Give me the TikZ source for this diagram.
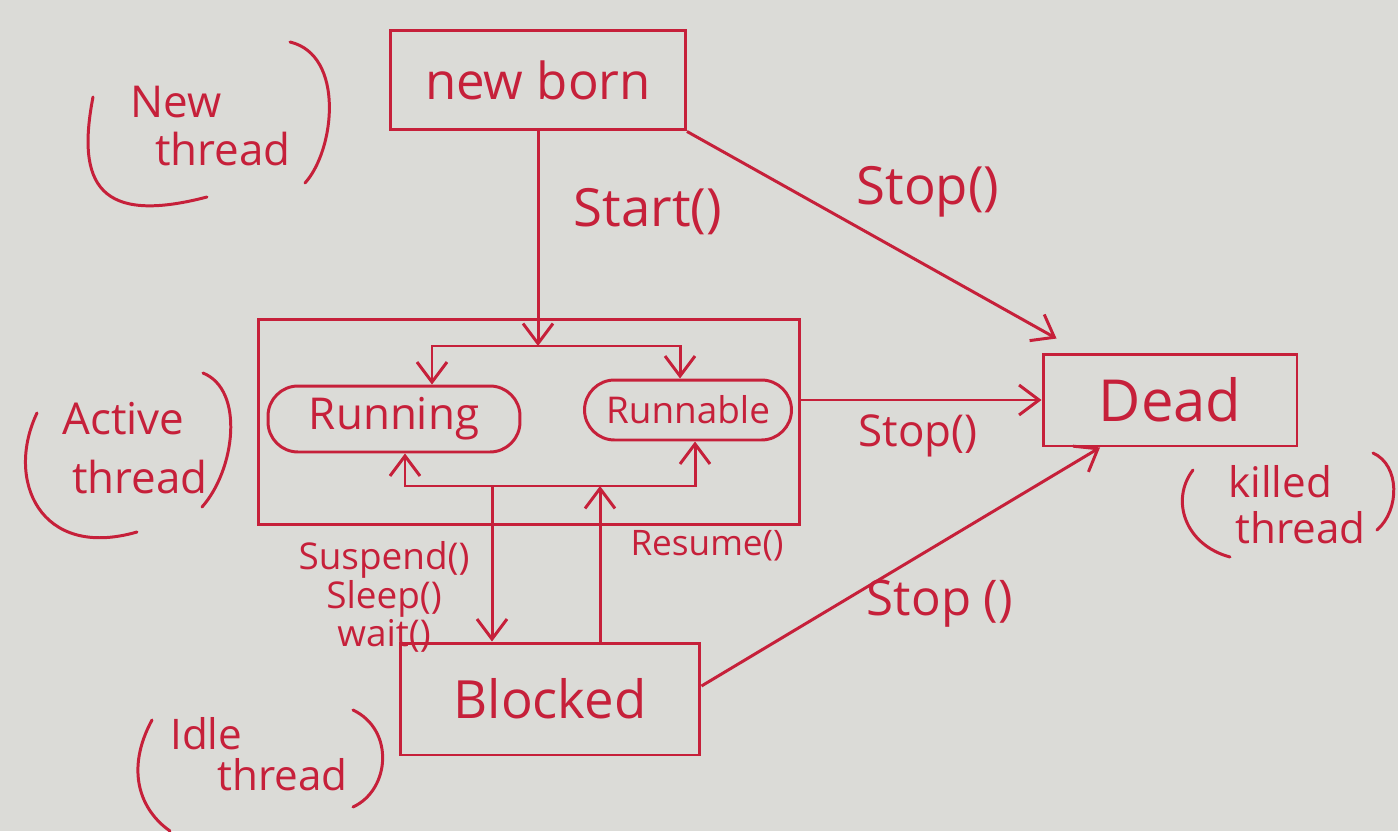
\documentclass[tikz,border=0pt]{standalone}
\usepackage{fontspec}
\setmainfont{Open Sans}
\usetikzlibrary{arrows.meta,calc,positioning}
\definecolor{ink}{RGB}{198,32,58}
\definecolor{paper}{RGB}{219,219,215}
\newcommand{\handfont}[2]{\fontsize{#1}{#2}\selectfont}

\begin{document}
\begin{tikzpicture}[x=0.02cm,y=-0.02cm,
    >={Straight Barb[length=0.4cm,width=0.6cm]},
    ink_line/.style={draw=ink, line width=1.7pt},
    state_box/.style={rectangle, ink_line, text=ink, inner sep=0pt},
    state_oval/.style={rectangle, rounded corners=0.6cm, ink_line, text=ink, inner sep=0pt},
    one_way/.style={->, ink_line},
    two_way/.style={<->, ink_line},
    hand_label/.style={text=ink, inner sep=0pt},
    paren/.style={ink_line, line cap=round}]

  \fill[paper] (0,0) rectangle (1398,831);
  \useasboundingbox (0,0) rectangle (1398,831);

  % states
  \path (538,80) node(newborn) [state_box, minimum width=5.9cm, minimum height=2cm, font=\handfont{29}{29}] {new born}
  (529,422) node(active) [state_box, minimum width=10.84cm, minimum height=4.1cm] {}
  (394,419) node(running) [state_oval, minimum width=5.04cm, minimum height=1.32cm, font=\handfont{25}{25}] {Running}
  (688,410) node(runnable) [state_oval, minimum width=4.14cm, minimum height=1.2cm, font=\handfont{21}{21}] {Runnable}
  (550,699) node(blocked) [state_box, minimum width=6cm, minimum height=2.24cm, font=\handfont{30}{30}] {Blocked}
  (1170,400) node(dead) [state_box, minimum width=5.08cm, minimum height=1.84cm, font=\handfont{33}{33}] {Dead};

  \coordinate (loop_top) at (540,346);
  \coordinate (loop_bot) at (550,486);
  \coordinate (susp_start) at (492,486);
  \coordinate (res_end) at (600,486);

  % inside the active box
  \draw[two_way] ([xshift=0.76cm]running.north) |- (loop_top) -| ([xshift=-0.16cm]runnable.north);
  \draw[two_way] ([xshift=0.22cm]running.south) |- (loop_bot) -| ([xshift=0.14cm]runnable.south);

  \path (newborn.south) edge[one_way] (newborn.south |- loop_top)
  (susp_start) edge[one_way] (susp_start |- blocked.north)
  (res_end |- blocked.north) edge[one_way] (res_end)
  (newborn.south east) edge[one_way] ([shift={(0.3cm,0.28cm)}]dead.north west)
  (active.east |- dead.west) edge[one_way] (dead.west)
  ([yshift=0.26cm]blocked.east) edge[one_way] ([xshift=-1.4cm]dead.south)
  ;

  % method labels
  \path (648,212) node(start_lbl) [hand_label, font=\handfont{30}{30}] {Start()}
  (928,192) node(stop_new_lbl) [hand_label, font=\handfont{30}{30}] {Stop()}
  (918,436) node(stop_act_lbl) [hand_label, font=\handfont{25}{25}] {Stop()}
  (940,604) node(stop_blk_lbl) [hand_label, font=\handfont{28}{28}] {Stop ()}
  (707,546) node(resume_lbl) [hand_label, font=\handfont{20}{20}] {Resume()}
  (384,597) node(wait_lbl) [hand_label, align=center, font=\handfont{21}{18}] {Suspend()\\Sleep()\\wait()};

  % thread kinds
  \path (130,126) node(new_lbl) [hand_label, anchor=west, align=left, font=\handfont{25}{27}] {New\\\hspace{0.5cm}thread}
  (62,448) node(active_lbl) [hand_label, anchor=west, align=left, font=\handfont{25}{34}] {Active\\\hspace{0.2cm}thread}
  (170,754) node(idle_lbl) [hand_label, anchor=west, align=left, font=\handfont{24}{23}] {Idle\\\hspace{0.94cm}thread}
  (1228,505) node(killed_lbl) [hand_label, anchor=west, align=left, font=\handfont{24}{26}] {killed\\\hspace{0.14cm}thread};

  \draw[paren] (93,97) .. controls (76,185) and (100,225) .. (207,197);
  \draw[paren] (290,42) .. controls (345,55) and (335,150) .. (305,183);
  \draw[paren] (37,413) .. controls (5,480) and (40,560) .. (137,532);
  \draw[paren] (203,373) .. controls (245,390) and (235,470) .. (202,507);
  \draw[paren] (152,720) .. controls (125,770) and (140,810) .. (170,831);
  \draw[paren] (353,710) .. controls (395,730) and (390,790) .. (353,807);
  \draw[paren] (1193,470) .. controls (1170,500) and (1185,545) .. (1230,557);
  \draw[paren] (1373,453) .. controls (1400,465) and (1400,510) .. (1377,530);

\end{tikzpicture}
\end{document}
